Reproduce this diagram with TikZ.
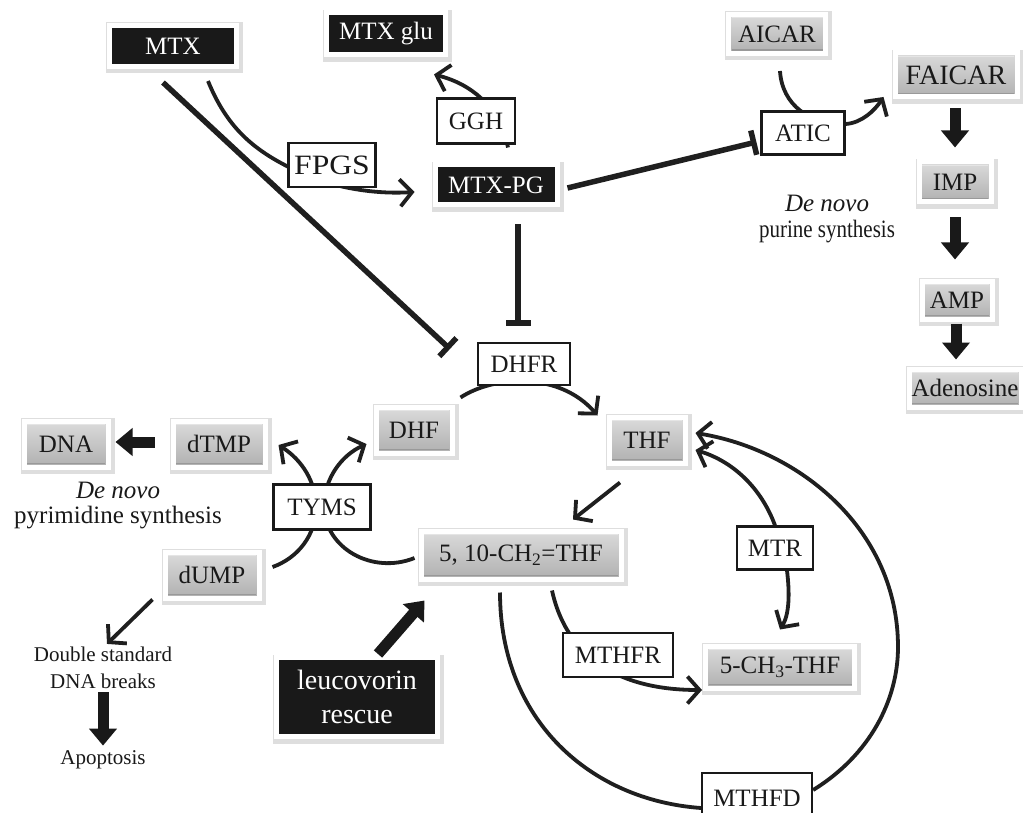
\documentclass[tikz,border=0pt]{standalone}
\usepackage{fontspec}
\setmainfont{Liberation Serif}
\usetikzlibrary{arrows.meta,shadows,calc}
\pgfdeclarelayer{bg}
\pgfsetlayers{bg,main}
\begin{document}
\begin{tikzpicture}[x=1pt,y=-1pt,
  base/.style={font=\fontsize{25}{28}\selectfont, inner sep=0pt, align=center},
  shad/.style={drop shadow={opacity=0.3,shadow xshift=2pt,shadow yshift=-2.5pt},
    preaction={draw=black, draw opacity=0.13, line width=10pt, transform canvas={xshift=1.5pt,yshift=-2pt}}},
  blk/.style={base, shad, draw=white, line width=5pt, fill=black!90, text=white},
  gry/.style={base, shad, draw=white, line width=5pt, top color=gray!28, bottom color=gray!62, text=black!90,
    path picture={
      \draw[gray!80, line width=1.5pt] ($(path picture bounding box.south west)+(3pt,3.3pt)$) -- ($(path picture bounding box.south east)+(-3pt,3.3pt)$);
      \draw[white!80!gray, line width=1.2pt] ($(path picture bounding box.north west)+(3pt,-3.2pt)$) -- ($(path picture bounding box.north east)+(-3pt,-3.2pt)$);
    }},
  enz/.style={base, draw=black!90, line width=2.2pt, fill=white, text=black!90},
  lbl/.style={base, text=black!90},
  con/.style={line width=3.8pt, draw=black!88},
  arr/.style={con, -{Straight Barb[length=12pt,width=27pt]}},
  inh/.style={line width=5.5pt, draw=black!88, -{Bar[width=25pt]}},
  blockarr/.style={line width=11pt, draw=black!90, -{Triangle[width=27pt,length=17pt]}}
]
\useasboundingbox (0,0) rectangle (1023,813);

% ---------- nodes ----------
\node[blk, minimum width=127, minimum height=41] (MTX) at (173,46) {MTX};
\node[blk, minimum width=119, minimum height=42] (MTXglu) at (386,34) {MTX glu};
\node[blk, minimum width=122, minimum height=40] (MTXPG) at (496,185) {MTX-PG};
\node[blk, minimum width=161, minimum height=79, font=\fontsize{28}{34}\selectfont] (leuco) at (357,697) {leucovorin\\rescue};

\node[gry, minimum width=97, minimum height=39] (AICAR) at (777,34) {AICAR};
\node[gry, minimum width=122, minimum height=44, font=\fontsize{28}{30}\selectfont] (FAICAR) at (956,75) {FAICAR};
\node[gry, minimum width=72, minimum height=40] (IMP) at (955,182) {IMP};
\node[gry, minimum width=70, minimum height=38] (AMP) at (957,300) {AMP};
\node[gry, minimum width=112, minimum height=38] (Aden) at (965,388) {Adenosine};
\node[gry, minimum width=76, minimum height=46] (DHF) at (414,430) {DHF};
\node[gry, minimum width=92, minimum height=46] (dTMP) at (219,444) {dTMP};
\node[gry, minimum width=84, minimum height=46] (DNA) at (66,444) {DNA};
\node[gry, minimum width=94, minimum height=46] (dUMP) at (212,575) {dUMP};
\node[gry, minimum width=76, minimum height=46] (THF) at (647,440) {THF};
\node[gry, minimum width=200, minimum height=48] (CHTHF) at (521,555) {5, 10-CH\textsubscript{2}=THF};
\node[gry, minimum width=149, minimum height=42] (CH3THF) at (780,667) {5-CH\textsubscript{3}-THF};

\node[enz, minimum width=87, minimum height=44, font=\fontsize{28}{30}\selectfont] (FPGS) at (332,165) {\scalebox{1.13}[1]{FPGS}};
\node[enz, minimum width=78, minimum height=45] (GGH) at (476,121) {GGH};
\node[enz, minimum width=83, minimum height=43] (ATIC) at (803,133) {ATIC};
\node[enz, minimum width=92, minimum height=42] (DHFR) at (524,364) {DHFR};
\node[enz, minimum width=97, minimum height=45] (TYMS) at (322,507) {TYMS};
\node[enz, minimum width=76, minimum height=43] (MTR) at (775,548) {MTR};
\node[enz, minimum width=110, minimum height=44] (MTHFR) at (618,655) {MTHFR};
\node[enz, minimum width=110, minimum height=50] (MTHFD) at (757,798) {MTHFD};

\node[lbl] (pur1) at (827,203) {\textit{De novo}};
\node[lbl] (pur2) at (827,232) {\scalebox{0.84}[1]{purine synthesis}};
\node[lbl] (pyr1) at (118,490) {\textit{De novo}};
\node[lbl] (pyr2) at (118,518) {pyrimidine synthesis};
\node[lbl, font=\fontsize{21}{27}\selectfont] (dsb) at (103,668) {Double standard\\DNA breaks};
\node[lbl, font=\fontsize{21}{27}\selectfont] (apo) at (103,760) {Apoptosis};

% ---------- connector end points ----------
\coordinate (mtxI) at ($(MTX.south)+(-10,13.5)$);
\coordinate (dhfrI1) at ($(DHFR.west)+(-27,-15)$);
\coordinate (pgI) at ($(MTXPG.south)+(22,17)$);
\coordinate (dhfrI2) at ($(DHFR.north)+(-6,-16)$);
\coordinate (pgA) at ($(MTXPG.east)+(8,3)$);
\coordinate (aticI) at ($(ATIC.west)+(-4,9)$);
\coordinate (mtxF) at ($(MTX.south)+(35,12)$);
\coordinate (pgF) at ($(MTXPG.west)+(-18,7)$);
\coordinate (pgG) at ($(MTXPG.north)+(12,-15)$);
\coordinate (gluG) at ($(MTXglu.south)+(48,17)$);
\coordinate (aicA) at ($(AICAR.south)+(3,15)$);
\coordinate (aticR) at ($(ATIC.east)+(0,-9)$);
\coordinate (faiA) at ($(FAICAR.west)+(-9,22)$);
\coordinate (dumpS) at ($(dUMP.east)+(11,-8)$);
\coordinate (dtmpE) at ($(dTMP.east)+(11,1)$);
\coordinate (chS) at ($(CHTHF.west)+(-4,3)$);
\coordinate (dhfE) at ($(DHF.west)+(-7,14)$);
\coordinate (dhfS) at ($(DHF.north east)+(6,-7)$);
\coordinate (thfE) at ($(THF.north west)+(-9,1)$);
\coordinate (thfS) at ($(THF.south)+(-27,17)$);
\coordinate (chE) at ($(CHTHF.north)+(52,-9)$);
\coordinate (chM) at ($(CHTHF.south)+(31,9)$);
\coordinate (ch3E) at ($(CH3THF.west)+(-1,23)$);
\coordinate (thfR1) at ($(THF.east)+(8,10)$);
\coordinate (mtrS) at ($(MTR.south)+(12,0)$);
\coordinate (ch3N) at ($(CH3THF.north)+(0,-14)$);
\coordinate (chD) at ($(CHTHF.south)+(-21,11)$);
\coordinate (mthfdL) at ($(MTHFD.west)+(0,10)$);
\coordinate (mthfdR) at ($(MTHFD.east)+(0,-8)$);
\coordinate (thfR2) at ($(THF.east)+(8,-7)$);
\coordinate (dumpD) at ($(dUMP.south west)+(-10,-1)$);
\coordinate (dsbN) at ($(dsb.north)+(4,-3)$);
\coordinate (lvS) at ($(leuco.north)+(21,-1)$);
\coordinate (lvE) at ($(CHTHF.south west)+(6,19)$);
\coordinate (lvE2) at ($(lvE)!-6pt!(lvS)$);

% ---------- connectors (behind nodes) ----------
\begin{pgfonlayer}{bg}
\fill[white] (0,0) rectangle (1023,813);
\draw[inh] (mtxI) -- (dhfrI1);
\draw[inh] (pgI) -- (dhfrI2);
\draw[inh] (pgA) -- (aticI);
\draw[arr] (mtxF) .. controls (230,135) and (262,156) .. (310,177)
                  .. controls (345,190) and (380,194) .. (pgF);
\draw[arr] (pgG) .. controls (500,110) and (475,85) .. (gluG);
\draw[arr] (aicA) .. controls (782,105) and (810,125) .. (aticR)
                  .. controls (862,123) and (875,110) .. (faiA);
\draw[arr] (dumpS) .. controls (298,558) and (316,535) .. (316,507)
                   .. controls (316,482) and (302,460) .. (dtmpE);
\draw[arr] (chS) .. controls (372,575) and (325,548) .. (324,507)
                 .. controls (324,478) and (342,455) .. (dhfE);
\draw[arr] (dhfS) .. controls (495,375) and (560,372) .. (thfE);
\draw[arr] (thfS) -- (chE);
\draw[arr] (chM) .. controls (565,650) and (610,690) .. (ch3E);
\draw[arr] (MTR.north) .. controls (762,490) and (735,462) .. (thfR1);
\draw[arr] (mtrS) .. controls (790,595) and (789,615) .. (ch3N);
\draw[con] (chD) .. controls (500,720) and (590,800) .. (mthfdL);
\draw[arr] (mthfdR) .. controls (870,755) and (898,700) .. (898,647)
                    .. controls (898,530) and (800,450) .. (thfR2);
\draw[arr] (dumpD) -- (dsbN);
\end{pgfonlayer}

% ---------- block arrows ----------
\draw[blockarr] ($(FAICAR.south)+(-1,9)$) -- ($(IMP.north)+(0,-12)$);
\draw[blockarr] ($(IMP.south)+(0,13)$) -- ($(AMP.north)+(-2,-19)$);
\draw[blockarr] ($(AMP.south)+(-1,2)$) -- ($(Aden.north)+(-9,-7)$);
\draw[blockarr] ($(dTMP.west)+(-16,-2)$) -- ($(DNA.east)+(5,-2)$);
\draw[blockarr] ($(dsb.south)+(0,3)$) -- ($(apo.north)+(0,-5)$);
\draw[line width=18pt, white, -{Triangle[width=39pt,length=24pt]}] (lvS) -- (lvE2);
\draw[blockarr] (lvS) -- (lvE);
\end{tikzpicture}
\end{document}
